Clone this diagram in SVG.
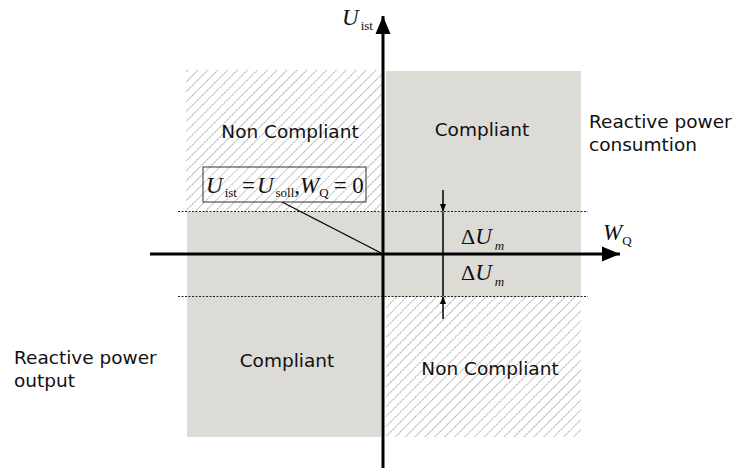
<svg xmlns="http://www.w3.org/2000/svg" width="733" height="468" viewBox="0 0 733 468">
<style>
.lbl{font-family:"DejaVu Sans",sans-serif;font-size:18.5px;fill:#111}
.m{font-family:"Liberation Serif",serif;fill:#111}
.mi{font-style:italic;font-size:23px}
.sub{font-size:13px}
.dot{stroke:#222;stroke-width:1;stroke-dasharray:2 1.5;fill:none}
.grey{fill:#dcdbd6}
</style>
<defs>
<pattern id="hatch" patternUnits="userSpaceOnUse" width="7" height="7" patternTransform="rotate(45)">
<line x1="0.5" y1="0" x2="0.5" y2="7" stroke="#b4b4b4" stroke-width="1" stroke-dasharray="2.5 0.75"/>
</pattern>
<marker id="ah" markerWidth="20" markerHeight="16" refX="18" refY="8" orient="auto" markerUnits="userSpaceOnUse"><path d="M0,0.5 L18,8 L0,15.5 Z" fill="#000"/></marker>
<marker id="sm" markerWidth="8" markerHeight="8" refX="7" refY="4" orient="auto" markerUnits="userSpaceOnUse"><path d="M0,1 L8,4 L0,7 Z" fill="#000"/></marker>
</defs>
<g id="regions">
<rect id="tl" x="186" y="70" width="195" height="142" fill="url(#hatch)"/>
<rect id="tr" class="grey" x="386" y="71" width="195" height="141"/>
<rect id="band" class="grey" x="187" y="212" width="394" height="85"/>
<rect id="bl" class="grey" x="187" y="297" width="194" height="140"/>
<rect id="br" x="386" y="297" width="195" height="140" fill="url(#hatch)"/>
</g>
<g id="dotted">
<line class="dot" x1="178" y1="211.5" x2="588" y2="211.5"/>
<line class="dot" x1="178" y1="296.5" x2="588" y2="296.5"/>
</g>
<g id="connectors">
<line x1="383" y1="468" x2="383" y2="16" stroke="#000" stroke-width="3" marker-end="url(#ah)"/>
<line x1="150" y1="254" x2="620" y2="254" stroke="#000" stroke-width="3" marker-end="url(#ah)"/>
<line x1="443" y1="190" x2="443" y2="211" stroke="#000" stroke-width="1.5" marker-end="url(#sm)"/>
<line x1="443" y1="212" x2="443" y2="296" stroke="#000" stroke-width="1.5"/>
<line x1="443" y1="319" x2="443" y2="297" stroke="#000" stroke-width="1.5" marker-end="url(#sm)"/>
<line x1="282" y1="202" x2="383" y2="254" stroke="#000" stroke-width="1.3"/>
</g>
<g id="box">
<rect x="203" y="167" width="163" height="35" fill="#fff" fill-opacity="0.15" stroke="#333" stroke-width="1"/>
<text class="m" x="206" y="193"><tspan class="mi">U</tspan><tspan class="sub" dx="2" dy="4">ist</tspan><tspan font-size="23" dx="5" dy="-4">=</tspan><tspan class="mi" dx="2">U</tspan><tspan class="sub" dx="2" dy="4">soll</tspan><tspan font-size="23" dy="-4">,</tspan><tspan class="mi">W</tspan><tspan class="sub" dy="4">Q</tspan><tspan font-size="23" dx="5" dy="-4">= 0</tspan></text>
</g>
<g id="axislabels">
<text class="m" x="342" y="25"><tspan class="mi">U</tspan><tspan class="sub" dx="2" dy="5">ist</tspan></text>
<text class="m" x="603" y="240"><tspan class="mi">W</tspan><tspan class="sub" dy="5">Q</tspan></text>
<text class="m" x="461" y="244"><tspan font-size="22">Δ</tspan><tspan class="mi" font-size="22">U</tspan><tspan class="sub" font-style="italic" dx="3" dy="6">m</tspan></text>
<text class="m" x="461" y="280"><tspan font-size="22">Δ</tspan><tspan class="mi" font-size="22">U</tspan><tspan class="sub" font-style="italic" dx="3" dy="6">m</tspan></text>
</g>
<g id="labels">
<text class="lbl" x="290" y="138" text-anchor="middle">Non Compliant</text>
<text class="lbl" x="482" y="136" text-anchor="middle">Compliant</text>
<text class="lbl" x="287" y="367" text-anchor="middle">Compliant</text>
<text class="lbl" x="490" y="375" text-anchor="middle">Non Compliant</text>
<text class="lbl" x="589" y="128">Reactive power</text>
<text class="lbl" x="589" y="151">consumtion</text>
<text class="lbl" x="14" y="364">Reactive power</text>
<text class="lbl" x="14" y="387">output</text>
</g>
</svg>
